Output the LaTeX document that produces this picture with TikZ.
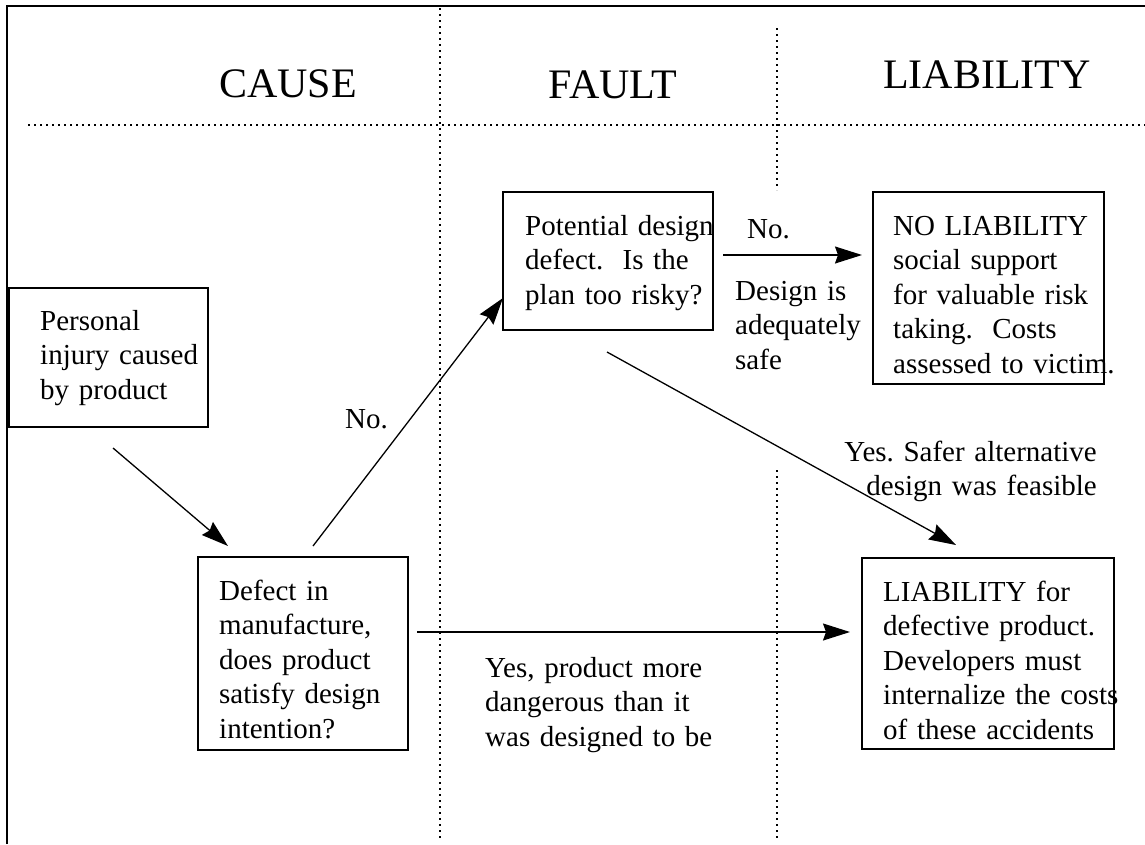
\documentclass[tikz,border=0pt]{standalone}
\usepackage{fontspec}
\setmainfont{Liberation Serif}
\usetikzlibrary{arrows.meta}
\frenchspacing
\begin{document}
\begin{tikzpicture}[x=1pt,y=-1pt,
  box/.style={draw, line width=1.3pt, inner sep=0pt, outer sep=0pt},
  txt/.style={font=\fontsize{29}{34.5}\selectfont, inner sep=0pt, text width=#1, anchor=base west},
  txt/.default=300pt,
  ltxt/.style={txt=#1, align=left},
  ltxt/.default=300pt,
  rtxt/.style={font=\fontsize{29}{34.5}\selectfont, inner sep=0pt, text width=#1, align=right, anchor=base east},
  title/.style={font=\fontsize{42}{50}\selectfont, inner sep=0pt, anchor=base},
  arr/.style={-{Stealth[length=27pt,width=17pt,inset=3pt]}, line width=1.3pt},
  dots/.style={line width=1.8pt, dash pattern=on 1.8pt off 4.2pt},
  frameline/.style={line width=2.6pt}]
\useasboundingbox (0,0) rectangle (1145,844);

% frame
\coordinate (fbl) at (7,844);
\coordinate (ftl) at (7,6);
\coordinate (ftr) at (1145,6);
\draw[frameline] (fbl) -- (ftl) -- (ftr);

% dotted separators
\coordinate (h1) at (28,125);
\coordinate (h2) at (1145,125);
\coordinate (v1a) at (440,8);
\coordinate (v1b) at (440,838);
\coordinate (v2a) at (777,28);
\coordinate (v2b) at (777,190);
\coordinate (v2c) at (777,470);
\coordinate (v2d) at (777,838);
\draw[dots] (h1) -- (h2);
\draw[dots] (v1a) -- (v1b);
\draw[dots] (v2a) -- (v2b);
\draw[dots] (v2c) -- (v2d);

% titles
\node[title] (tcause) at (288,97) {CAUSE};
\node[title] (tfault) at (613,98) {FAULT};
\node[title] (tliab) at (987,88) {LIABILITY};

% boxes
\node[box, minimum width=199pt, minimum height=139pt] (boxA) at (108.5,357.5) {};
\node[box, minimum width=210pt, minimum height=193pt] (boxB) at (303,653.5) {};
\node[box, minimum width=210pt, minimum height=138pt] (boxC) at (608,261) {};
\node[box, minimum width=231pt, minimum height=192pt] (boxD) at (988.5,288) {};
\node[box, minimum width=252pt, minimum height=191pt] (boxE) at (988,653.5) {};

% box texts
\node[ltxt] (textA) at (40,330) {Personal\\injury caused\\by product};
\node[ltxt] (textB) at (219,600) {Defect in\\manufacture,\\does product\\satisfy design\\intention?};
\node[ltxt] (textC) at (525,235) {Potential design\\defect.\ \ Is the\\plan too risky?};
\node[ltxt] (textD) at (893,235) {NO LIABILITY\\social support\\for valuable risk\\taking.\ \ Costs\\assessed to victim.};
\node[ltxt] (textE) at (883,601) {LIABILITY for\\defective product.\\Developers must\\internalize the costs\\of these accidents};

% connectors
\draw[arr] ([shift={(104,21)}]boxA.south west) -- ([shift={(30,-11)}]boxB.north west);
\draw[arr] ([shift={(115,-11)}]boxB.north west) -- ([shift={(0,-32)}]boxC.south west);
\draw[arr] ([shift={(10,-6)}]boxC.east) -- ([shift={(-11,-33)}]boxD.west);
\draw[arr] ([shift={(-1,22)}]boxC.south) -- ([shift={(-32,-13)}]boxE.north);
\draw[arr] ([shift={(9,-21.5)}]boxB.east) -- ([shift={(-12,-21.5)}]boxE.west);

% connector labels
\node[ltxt] (lno1) at (345,428) {No.};
\node[ltxt] (lno2) at (747,238) {No.};
\node[ltxt] (lsafe) at (735,300) {Design is\\adequately\\safe};
\node[rtxt=270pt] (lyes1) at (1097,461) {Yes. Safer alternative\\design was feasible};
\node[ltxt] (lyes2) at (485,677) {Yes, product more\\dangerous than it\\was designed to be};
\end{tikzpicture}
\end{document}
